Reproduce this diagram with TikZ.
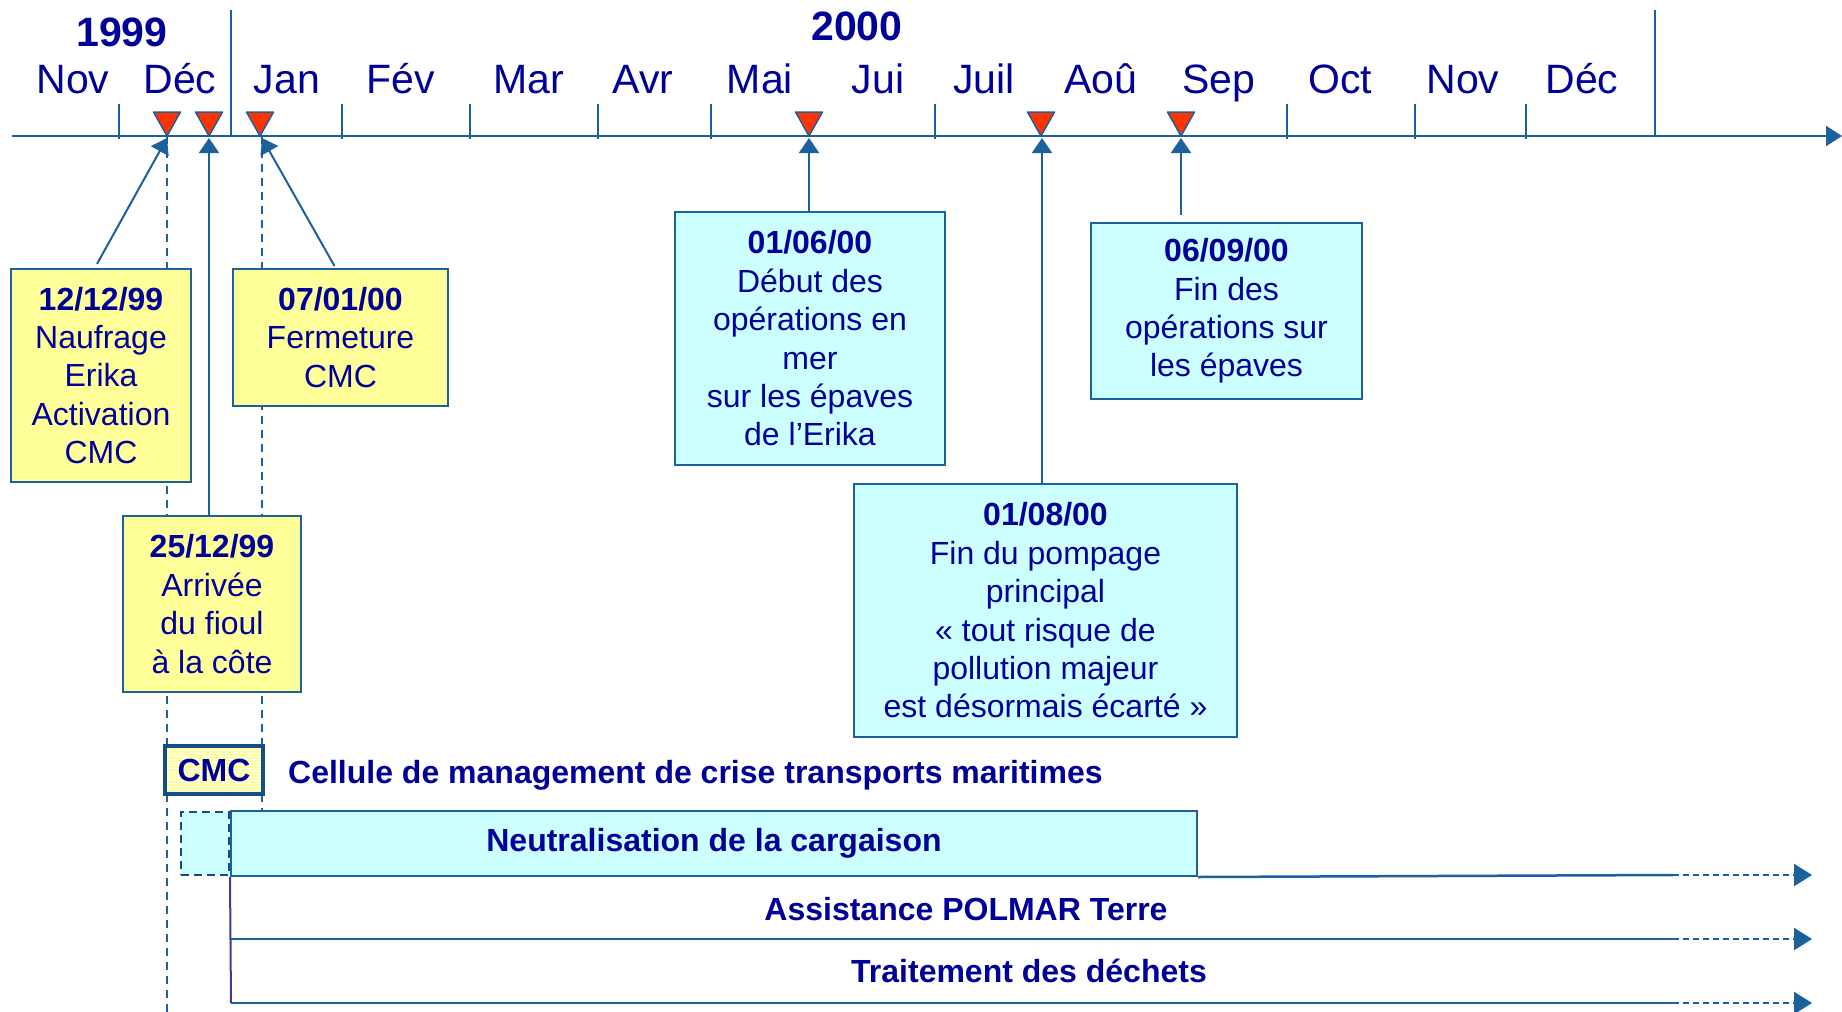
\documentclass[tikz,border=0pt]{standalone}
\usepackage{fontspec}
\setmainfont{Liberation Sans}
\usetikzlibrary{arrows.meta,positioning,calc,patterns}
\definecolor{navy}{RGB}{0,0,153}
\definecolor{axisblue}{RGB}{28,96,158}
\definecolor{darkblue}{RGB}{20,78,135}
\definecolor{evred}{RGB}{255,51,0}
\definecolor{paleyellow}{RGB}{255,255,153}
\definecolor{palecyan}{RGB}{204,255,255}
\definecolor{rowviolet}{RGB}{60,60,150}
\tikzset{
evbox/.style={draw=axisblue,line width=2pt,fill=paleyellow,align=center,text=navy,inner sep=0pt,font=\fontsize{32}{38.4}\selectfont},
opbox/.style={evbox,fill=palecyan},
month/.style={anchor=base,text=navy,font=\fontsize{41}{41}\selectfont},
year/.style={month,font=\fontsize{41}{41}\selectfont\bfseries},
link/.style={draw=axisblue,line width=2pt,-{Triangle[width=20pt,length=15pt]}},
guide/.style={draw=axisblue,line width=2pt,dash pattern=on 8pt off 6pt},
evmark/.style={draw=axisblue,line width=1.5pt,fill=evred,line join=round},
lbl/.style={text=navy,inner sep=0pt,font=\fontsize{32}{38.4}\selectfont\bfseries},
rowline/.style={draw=axisblue,line width=2.5pt},
rowdash/.style={draw=axisblue,line width=2.5pt,dash pattern=on 6pt off 4pt,-{Triangle[width=22pt,length=18pt]}},
}

\begin{document}
\begin{tikzpicture}[x=1pt,y=-1pt]
  \useasboundingbox (0,0) rectangle (1842,1012);

  % dates on the axis
  \coordinate (ev1) at (167,138);
  \coordinate (ev2) at (209,138);
  \coordinate (ev3) at (262,138);
  \coordinate (ev4) at (809,138);
  \coordinate (ev5) at (1042,138);
  \coordinate (ev6) at (1181,138);

  % CMC period
  \draw[guide] (167,136) -- (167,1012);
  \draw[guide] (262,136) -- (262,810);

  % time axis
  \draw[axisblue,line width=2.5pt,-{Triangle[width=20pt,length=16pt]}] (12,136) -- (1842,136);
  \draw[axisblue,line width=2pt] foreach \x in {119,342,470,598,711,935,1287,1415,1526} {(\x,104) -- (\x,139)};
  \draw[axisblue,line width=2pt] (231,10) -- (231,136) (1655,10) -- (1655,136);
  \draw foreach \x/\m in {73/Nov,180/Déc,287/Jan,401/Fév,529/Mar,643/Avr,760/Mai,878/Jui,
    984/Juil,1101/Aoû,1219/Sep,1340/Oct,1463/Nov,1582/Déc}
  {(\x,93) node[month] (m\x) {\m}};
  \node[year] (y1999) at (122,46) {1999};
  \node[year] (y2000) at (857,40) {2000};

  % events
  \node[evbox,minimum width=180pt,minimum height=213pt] (naufrage) at (101,375.5)
    {\textbf{12/12/99}\\Naufrage\\Erika\\Activation\\CMC};
  \node[evbox,minimum width=215pt,minimum height=137pt] (fermeture) at (340.5,337.5)
    {\textbf{07/01/00}\\Fermeture\\CMC};
  \node[evbox,minimum width=178pt,minimum height=176pt] (arrivee) at (212,604)
    {\textbf{25/12/99}\\Arrivée\\du fioul\\à la côte};
  \node[opbox,minimum width=270pt,minimum height=253pt] (debut) at (810,338.5)
    {\textbf{01/06/00}\\Début des\\opérations en\\mer\\sur les épaves\\de l’Erika};
  \node[opbox,minimum width=271pt,minimum height=176pt] (finops) at (1226.5,311)
    {\textbf{06/09/00}\\Fin des\\opérations sur\\les épaves};
  \node[opbox,minimum width=383pt,minimum height=253pt] (pompage) at (1045.5,610.5)
    {\textbf{01/08/00}\\Fin du pompage\\principal\\« tout risque de\\pollution majeur\\est désormais écarté »};

  \draw[link] ([shift={(-4,-4)}]naufrage.north) -- (ev1);
  \draw[link] ([shift={(-6,-2)}]fermeture.north) -- (ev3);
  \draw[link] (ev2 |- arrivee.north) -- (ev2);
  \draw[link] (ev4 |- debut.north) -- (ev4);
  \draw[link] (ev5 |- pompage.north) -- (ev5);
  \draw[link] ([yshift=7pt]ev6 |- finops.north) -- (ev6);

  \draw[evmark] foreach \x in {167,209,260,809,1041,1181} {(\x-13.5,112) -- (\x+13.5,112) -- (\x,136) -- cycle};

  % legend and activities
  \node[evbox,draw=darkblue,line width=4pt,preaction={fill=paleyellow},pattern=horizontal lines,
    pattern color=white,minimum width=98pt,minimum height=48pt,font=\fontsize{32}{38.4}\selectfont\bfseries]
    (cmc) at (214,770) {CMC};
  \node[lbl,anchor=base west] (cellule) at ($(cmc.east)+(23,13)$) {Cellule de management de crise transports maritimes};

  \node[opbox,font=\fontsize{32}{38.4}\selectfont\bfseries,minimum width=966pt,minimum height=65pt]
    (neutral) at (714,843.5) {Neutralisation de la cargaison};
  \node[draw=darkblue,line width=2pt,dash pattern=on 8pt off 5pt,fill=palecyan,inner sep=0pt,
    minimum width=48pt,minimum height=63pt,left=0pt of neutral] (neutralpre) {};

  \coordinate (r1b) at (1673,875);
  \coordinate (r1c) at (1812,875);
  \coordinate (r2a) at (231,939);
  \coordinate (r2b) at (1673,939);
  \coordinate (r2c) at (1812,939);
  \coordinate (r3a) at (231,1003);
  \coordinate (r3b) at (1673,1003);
  \coordinate (r3c) at (1812,1003);

  \draw[rowline] (neutral.south east) -- (r1b);
  \draw[rowdash] (r1b) -- (r1c);
  \draw[rowline] (r2a) -- (r2b);
  \draw[rowdash] (r2b) -- (r2c);
  \draw[rowline] (r3a) -- (r3b);
  \draw[rowdash] (r3b) -- (r3c);
  \draw[rowviolet,line width=2pt] (neutral.south west) -- (r3a);

  \node[lbl] (polmar) at (966,909) {Assistance POLMAR Terre};
  \node[lbl] (dechets) at (1029,971) {Traitement des déchets};
\end{tikzpicture}
\end{document}
